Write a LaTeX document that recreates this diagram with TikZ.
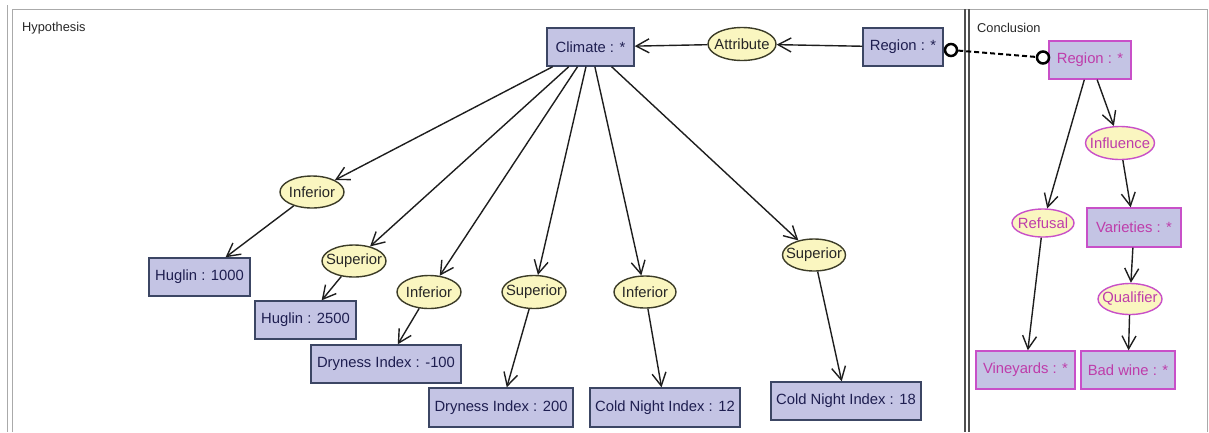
\documentclass[tikz,border=0pt]{standalone}
\usepackage{fontspec}
\setmainfont{Liberation Sans}
\usetikzlibrary{arrows.meta,shapes.geometric}
\definecolor{boxfill}{RGB}{196,196,228}
\definecolor{hypline}{RGB}{60,70,100}
\definecolor{hyptext}{RGB}{30,30,80}
\definecolor{ellfill}{RGB}{250,246,192}
\definecolor{ellline}{RGB}{60,60,40}
\definecolor{concline}{RGB}{200,80,200}
\definecolor{conctext}{RGB}{190,60,170}
\definecolor{edgecol}{RGB}{30,30,30}
\definecolor{framegray}{RGB}{170,170,170}
\definecolor{divgray}{RGB}{80,80,80}
\newcommand{\ztext}[1]{\makebox[0pt]{#1}}
\begin{document}
\begin{tikzpicture}[x=1pt,y=-1pt,
  nodefont/.style={font=\fontsize{14.8}{16}\selectfont},
  hbox/.style={draw=hypline, fill=boxfill, line width=1.4pt, text=hyptext, nodefont, inner sep=0pt, minimum height=38pt},
  hell/.style={ellipse, draw=ellline, fill=ellfill, line width=1.4pt, text=black!85, nodefont, inner sep=0pt, minimum width=64pt, minimum height=32pt},
  cbox/.style={hbox, draw=concline, text=conctext},
  cell/.style={hell, draw=concline, text=conctext},
  arr/.style={draw=edgecol, line width=1.4pt, -{Straight Barb[length=13pt,width=14pt]}},
  lbl/.style={anchor=west, inner sep=0pt, font=\fontsize{12.8}{15}\selectfont, text=black!85},
  frameline/.style={draw=framegray, line width=1pt},
  divline/.style={draw=divgray, line width=1.6pt},
  ring/.style={circle, draw=black, fill=white, line width=2.5pt, inner sep=0pt, minimum size=12pt},
  link/.style={draw=black, line width=2pt, dash pattern=on 5pt off 3pt}
]
\useasboundingbox (0,0) rectangle (1209,432);
% frames
\draw[frameline] (7.5,5) -- (7.5,432);
\draw[frameline] (12,9) -- (12,432);
\draw[frameline] (12,9) -- (1207,9) -- (1207,432);
\draw[divline] (965,9) -- (965,432);
\draw[divline] (969,9) -- (969,432);
% labels
\node[lbl] (hyplabel) at (22,28) {Hypothesis};
\node[lbl] (conclabel) at (977,28) {Conclusion};
% hypothesis nodes
\node[hbox, minimum width=87pt] (clim) at (590.5,47) {Climate : *};
\node[hell, minimum width=68pt, minimum height=33pt] (attr) at (742,44) {\ztext{Attribute}};
\node[hbox, minimum width=80pt] (regH) at (903,47) {Region : *};
\node[hell] (inf1) at (312,192) {\ztext{Inferior}};
\node[hell] (sup1) at (354,261) {\ztext{Superior}};
\node[hell, minimum height=33pt] (inf2) at (429,292) {\ztext{Inferior}};
\node[hell, minimum height=33pt] (sup2) at (534,292) {\ztext{Superior}};
\node[hell, minimum width=62pt] (inf3) at (645,292) {\ztext{Inferior}};
\node[hell, minimum width=63pt] (sup3) at (814,255) {\ztext{Superior}};
\node[hbox, minimum width=101pt] (hug1) at (199.5,277) {Huglin : 1000};
\node[hbox, minimum width=101pt] (hug2) at (305.5,320) {Huglin : 2500};
\node[hbox, minimum width=150pt] (dry1) at (386,364) {Dryness Index : -100};
\node[hbox, minimum width=144pt, minimum height=39pt] (dry2) at (501,407.5) {Dryness Index : 200};
\node[hbox, minimum width=150pt, minimum height=39pt] (cold1) at (665,407.5) {Cold Night Index : 12};
\node[hbox, minimum width=150pt] (cold2) at (846,401) {Cold Night Index : 18};
% conclusion nodes
\node[cbox, minimum width=82pt] (regC) at (1090,60) {Region : *};
\node[cell, minimum width=69pt, minimum height=33pt] (infl) at (1120,143) {\ztext{Influence}};
\node[cell, minimum width=62pt, minimum height=28pt] (refu) at (1043,223) {\ztext{Refusal}};
\node[cbox, minimum width=94pt, minimum height=39pt] (vari) at (1134,227.5) {Varieties : *};
\node[cell, minimum height=31pt] (qual) at (1130,299) {\ztext{Qualifier}};
\node[cbox, minimum width=99pt] (vine) at (1025.5,370) {Vineyards : *};
\node[cbox, minimum width=94pt] (badw) at (1128,370) {Bad wine : *};
% hypothesis edges
\draw[arr] (regH) -- (attr);
\draw[arr] (attr) -- (clim);
\draw[arr] (clim) -- (inf1);
\draw[arr] (clim) -- (sup1);
\draw[arr] (clim) -- (inf2);
\draw[arr] (clim) -- (sup2);
\draw[arr] (clim) -- (inf3);
\draw[arr] (clim) -- (sup3);
\draw[arr] (inf1) -- (hug1);
\draw[arr] (sup1) -- (hug2);
\draw[arr] (inf2) -- (dry1);
\draw[arr] (sup2) -- (dry2);
\draw[arr] (inf3) -- (cold1);
\draw[arr] (sup3) -- (cold2);
% conclusion edges
\draw[arr] (regC) -- (infl);
\draw[arr] (regC) -- (refu);
\draw[arr] (infl) -- (vari);
\draw[arr] (refu) -- (vine);
\draw[arr] (vari) -- (qual);
\draw[arr] (qual) -- (badw);
% link between the two regions
\node[ring] (ringH) at (951,50) {};
\node[ring] (ringC) at (1043,57.5) {};
\draw[link] (ringH) -- (ringC);
\end{tikzpicture}
\end{document}
